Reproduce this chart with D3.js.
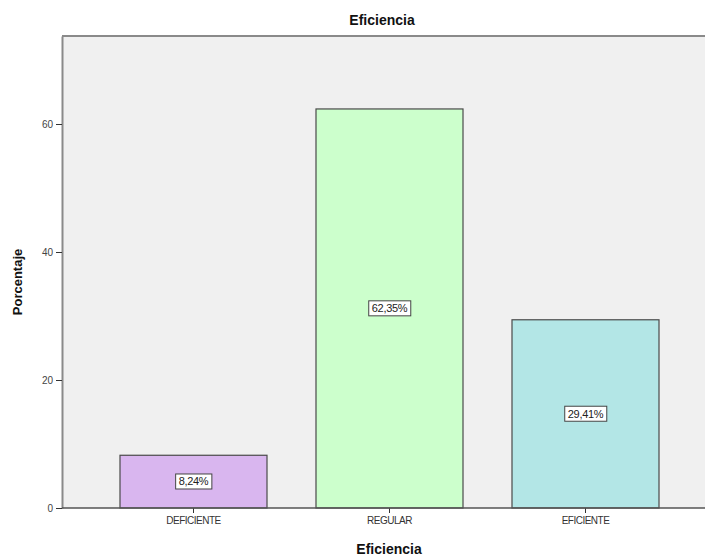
<!DOCTYPE html>
<html>
<head>
<meta charset="utf-8">
<script src="https://cdn.jsdelivr.net/npm/d3@7"></script>
<style>
  html, body { margin: 0; padding: 0; background: #fff; }
  svg { display: block; font-family: "Liberation Sans", Arial, sans-serif; }
</style>
</head>
<body>
<svg id="chart" width="706" height="560"></svg>
<script>
// Distribución de la variable Eficiencia (porcentaje por nivel)
const categories = ["DEFICIENTE", "REGULAR", "EFICIENTE"];
const percentages = [8.24, 62.35, 29.41];
const barColors = ["#d9b6ef", "#ccffcc", "#b3e6e6"];
const yTicks = [0, 20, 40, 60];

const svg = d3.select("#chart");

const frame = { left: 62, right: 705, top: 36, bottom: 508 };

const x = d3.scaleBand()
  .domain(categories)
  .range([95.5, 683.5])
  .paddingInner(0.25)
  .paddingOuter(0.125);

const y = d3.scaleLinear()
  .domain([0, 73.75])
  .range([frame.bottom, frame.top]);

// Fondo del área de trazado
svg.append("rect")
  .attr("x", frame.left)
  .attr("y", frame.top)
  .attr("width", frame.right - frame.left)
  .attr("height", frame.bottom - frame.top)
  .attr("fill", "#f0f0f0");

// Borde superior del marco
svg.append("line")
  .attr("x1", frame.left).attr("x2", frame.right)
  .attr("y1", frame.top).attr("y2", frame.top)
  .attr("stroke", "#8a8a8a").attr("stroke-width", 2);

// Barras
svg.append("g").selectAll("rect")
  .data(categories)
  .join("rect")
  .attr("x", d => x(d))
  .attr("y", (d, i) => y(percentages[i]))
  .attr("width", x.bandwidth())
  .attr("height", (d, i) => y(0) - y(percentages[i]))
  .attr("fill", (d, i) => barColors[i])
  .attr("stroke", "#4a4a4a")
  .attr("stroke-width", 1.2);

// Eje Y
const yAxis = svg.append("g")
  .attr("transform", `translate(${frame.left},0)`)
  .call(d3.axisLeft(y).tickValues(yTicks).tickSizeInner(6).tickSizeOuter(0)
    .tickPadding(3).tickFormat(d3.format("d")));
yAxis.select(".domain").attr("stroke", "#8a8a8a").attr("stroke-width", 2);
yAxis.selectAll(".tick line").attr("stroke", "#333");
yAxis.selectAll(".tick text")
  .attr("fill", "#444")
  .style("font-size", "10px");

// Eje X
const xAxis = svg.append("g")
  .attr("transform", `translate(0,${frame.bottom})`)
  .call(d3.axisBottom(x).tickSize(5).tickPadding(4));
xAxis.select(".domain").remove();
xAxis.append("line")
  .attr("x1", frame.left).attr("x2", frame.right)
  .attr("stroke", "#555").attr("stroke-width", 1.5);
xAxis.selectAll(".tick line").attr("stroke", "#333");
xAxis.selectAll(".tick text")
  .attr("fill", "#333")
  .style("font-size", "10px")
  .style("letter-spacing", "-0.5px");

// Etiquetas de porcentaje dentro de las barras
const labels = svg.append("g").selectAll("g")
  .data(categories)
  .join("g")
  .attr("transform", (d, i) =>
    `translate(${x(d) + x.bandwidth() / 2},${y(percentages[i] / 2)})`);

labels.append("text")
  .attr("text-anchor", "middle")
  .attr("dy", "0.35em")
  .attr("fill", "#222")
  .style("font-size", "11px")
  .style("letter-spacing", "-0.3px")
  .text((d, i) => d3.format(".2f")(percentages[i]).replace(".", ",") + "%");

labels.each(function () {
  const g = d3.select(this);
  const bb = g.select("text").node().getBBox();
  g.insert("rect", "text")
    .attr("x", bb.x - 3)
    .attr("y", bb.y - 1.5)
    .attr("width", bb.width + 6)
    .attr("height", bb.height + 3)
    .attr("fill", "#ffffff")
    .attr("stroke", "#444")
    .attr("stroke-width", 1);
});

// Título
svg.append("text")
  .attr("x", 382)
  .attr("y", 25)
  .attr("text-anchor", "middle")
  .attr("fill", "#111")
  .style("font-size", "14px")
  .style("font-weight", "bold")
  .text("Eficiencia");

// Título del eje Y
svg.append("text")
  .attr("transform", `translate(22,${(frame.top + frame.bottom) / 2 + 10}) rotate(-90)`)
  .attr("text-anchor", "middle")
  .attr("fill", "#111")
  .style("font-size", "13px")
  .style("font-weight", "bold")
  .text("Porcentaje");

// Título del eje X
svg.append("text")
  .attr("x", 389)
  .attr("y", 554)
  .attr("text-anchor", "middle")
  .attr("fill", "#111")
  .style("font-size", "14px")
  .style("font-weight", "bold")
  .text("Eficiencia");
</script>
</body>
</html>
